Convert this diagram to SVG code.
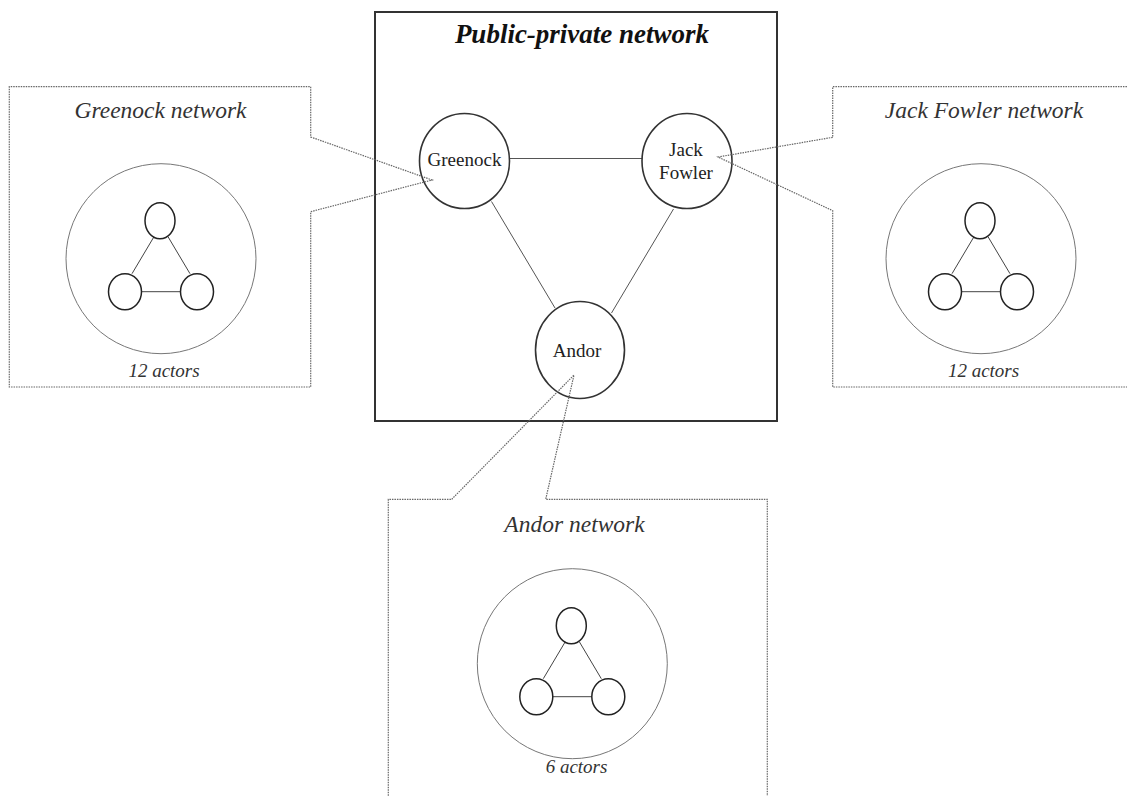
<svg xmlns="http://www.w3.org/2000/svg" xmlns:xlink="http://www.w3.org/1999/xlink" width="1127" height="796" viewBox="0 0 1127 796">
<style>
  .bg{fill:#fff}
  .mainbox{fill:none;stroke:#333;stroke-width:2}
  .node{fill:#fff;stroke:#333;stroke-width:1.6}
  .edge{stroke:#555;stroke-width:1;fill:none}
  .callout{fill:none;stroke:#666;stroke-width:1.2;stroke-dasharray:1.5 1}
  .outer{fill:none;stroke:#777;stroke-width:1}
  .mini{fill:none;stroke:#222;stroke-width:1.5}
  .miniedge{stroke:#444;stroke-width:1;fill:none}
  .title{font-family:"Liberation Serif",serif;font-style:italic;font-weight:bold;font-size:27px;fill:#111;text-anchor:middle}
  .sub{font-family:"Liberation Serif",serif;font-style:italic;font-size:23.5px;fill:#333;text-anchor:middle}
  .count{font-family:"Liberation Serif",serif;font-style:italic;font-size:19px;fill:#333;text-anchor:middle}
  .label{font-family:"Liberation Serif",serif;font-size:19px;fill:#222;text-anchor:middle}
</style>
<defs>
  <g id="mininet">
    <circle class="outer" cx="0" cy="0" r="95"/>
    <line class="miniedge" x1="-29" y1="15" x2="-7" y2="-22"/>
    <line class="miniedge" x1="29" y1="15" x2="7" y2="-22"/>
    <line class="miniedge" x1="-19.5" y1="33" x2="19.5" y2="33"/>
    <ellipse class="mini" cx="-1" cy="-38" rx="15" ry="18"/>
    <ellipse class="mini" cx="-36" cy="33" rx="16.5" ry="18"/>
    <ellipse class="mini" cx="36" cy="33" rx="16.5" ry="18"/>
  </g>
</defs>
<rect class="bg" x="0" y="0" width="1127" height="796"/>

<g id="public-private-network">
  <rect class="mainbox" x="375" y="12" width="402" height="409"/>
  <text class="title" x="582" y="43">Public-private network</text>
</g>

<g id="connectors">
  <line class="edge" x1="510" y1="158.5" x2="642" y2="158.5"/>
  <line class="edge" x1="491.5" y1="201.5" x2="555" y2="308"/>
  <line class="edge" x1="673.5" y1="209" x2="611.5" y2="313"/>
</g>

<g id="greenock">
  <ellipse class="node" cx="464.5" cy="161" rx="45" ry="47.5"/>
  <text class="label" x="464.5" y="166">Greenock</text>
</g>

<g id="jack-fowler">
  <ellipse class="node" cx="687" cy="161" rx="45" ry="47.5"/>
  <text class="label" x="686" y="156">Jack</text>
  <text class="label" x="686" y="179">Fowler</text>
</g>

<g id="andor">
  <ellipse class="node" cx="580" cy="350" rx="44.5" ry="48.5"/>
  <text class="label" x="577" y="357">Andor</text>
</g>

<g id="greenock-network">
  <path class="callout" d="M310.7,137 L432,180 L310.7,211.7 L310.7,387 L9.3,387 L9.3,86.7 L310.7,86.7 Z"/>
  <text class="sub" x="160.5" y="118">Greenock network</text>
  <use xlink:href="#mininet" href="#mininet" x="161" y="258.7"/>
  <text class="count" x="164" y="377">12 actors</text>
</g>

<g id="jack-fowler-network">
  <path class="callout" d="M832.7,137.3 L718,157 L832.7,210.7 L832.7,387 L1130,387 L1130,86.7 L832.7,86.7 Z"/>
  <text class="sub" x="984" y="118">Jack Fowler network</text>
  <use xlink:href="#mininet" href="#mininet" x="981" y="258.7"/>
  <text class="count" x="983.5" y="377">12 actors</text>
</g>

<g id="andor-network">
  <path class="callout" d="M451.7,499.3 L574,375 L545.7,499.3 L767.3,499.3 L767.3,805 L388.3,805 L388.3,499.3 Z"/>
  <text class="sub" x="574.5" y="532">Andor network</text>
  <use xlink:href="#mininet" href="#mininet" x="572.3" y="663.7"/>
  <text class="count" x="576.5" y="773">6 actors</text>
</g>
</svg>
